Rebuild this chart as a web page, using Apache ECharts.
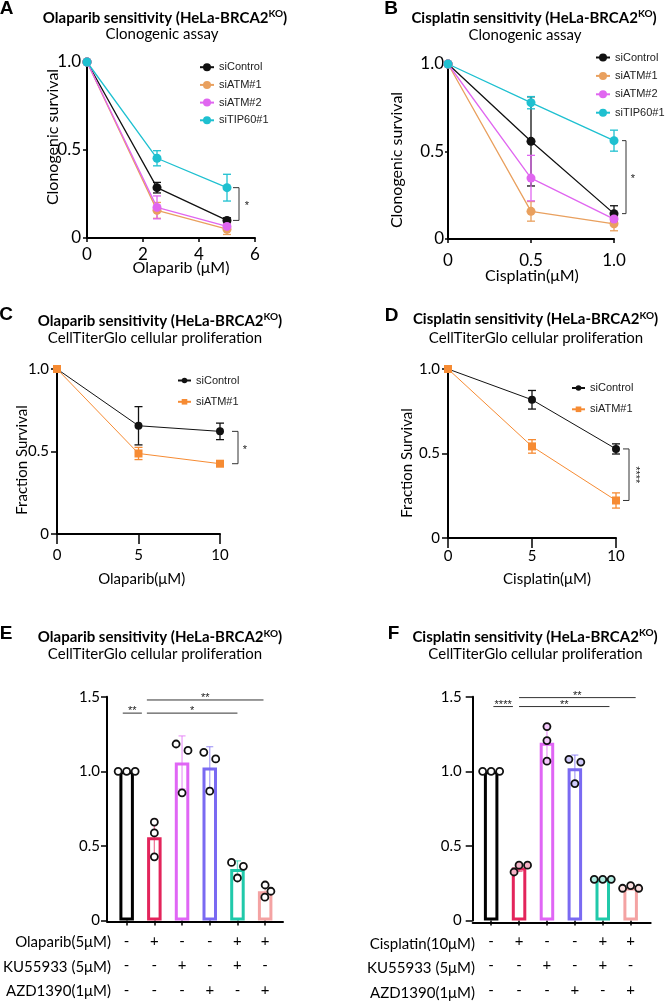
<!DOCTYPE html>
<html><head><meta charset="utf-8">
<script src="https://cdn.jsdelivr.net/npm/echarts@6/dist/echarts.min.js"></script>
<style>html,body{margin:0;padding:0;background:#fff}#c{width:665px;height:1002px}</style>
</head><body><div id="c"></div>
<script>
// ================= DATA =================
// Panel A: Olaparib, clonogenic survival
const dosesA = [0, 2.5, 5];
const A_siControl = [1.0, 0.286, 0.100];
const A_siControl_sd = [0, 0.030, 0.015];
const A_siATM1 = [1.0, 0.157, 0.050];
const A_siATM1_sd = [0, 0.045, 0.030];
const A_siATM2 = [1.0, 0.174, 0.066];
const A_siATM2_sd = [0, 0.065, 0.020];
const A_siTIP60 = [1.0, 0.453, 0.286];
const A_siTIP60_sd = [0, 0.043, 0.076];
// Panel B: Cisplatin, clonogenic survival
const dosesB = [0, 0.5, 1.0];
const B_siControl = [1.0, 0.558, 0.145];
const B_siControl_sd = [0, 0.255, 0.045];
const B_siATM1 = [1.0, 0.158, 0.087];
const B_siATM1_sd = [0, 0.056, 0.040];
const B_siATM2 = [1.0, 0.348, 0.114];
const B_siATM2_sd = [0, 0.130, 0.030];
const B_siTIP60 = [1.0, 0.779, 0.562];
const B_siTIP60_sd = [0, 0.035, 0.060];
// Panels C / D: CellTiterGlo
const dosesCD = [0, 5, 10];
const C_siControl = [1.0, 0.656, 0.622];
const C_siControl_sd = [0, 0.116, 0.050];
const C_siATM1 = [1.0, 0.488, 0.426];
const C_siATM1_sd = [0, 0.037, 0.008];
const D_siControl = [1.0, 0.818, 0.527];
const D_siControl_sd = [0, 0.055, 0.030];
const D_siATM1 = [1.0, 0.542, 0.222];
const D_siATM1_sd = [0, 0.040, 0.045];
const sigA = '*', sigB = '*', sigC = '*', sigD = '****';
// Panel E replicates (fraction survival)
const E_ctrl = [1.0, 1.0, 1.0];
const E_drug = [0.660, 0.587, 0.427];
const E_ku = [1.183, 1.140, 0.856];
const E_azd = [1.127, 1.083, 0.867];
const E_drugKu = [0.389, 0.363, 0.285];
const E_drugAzd = [0.238, 0.196, 0.156];
// Panel F replicates
const F_ctrl = [1.0, 1.0, 1.0];
const F_drug = [0.371, 0.325, 0.371];
const F_ku = [1.300, 1.206, 1.068];
const F_azd = [1.080, 1.062, 0.918];
const F_drugKu = [0.276, 0.276, 0.276];
const F_drugAzd = [0.216, 0.234, 0.216];
// treatment table
const rowLabelsE = ['Olaparib(5μM)', 'KU55933 (5μM)', 'AZD1390(1μM)'];
const rowLabelsF = ['Cisplatin(10μM)', 'KU55933 (5μM)', 'AZD1390(1μM)'];
const drugRow = ['-', '+', '-', '-', '+', '+'];
const kuRow   = ['-', '-', '+', '-', '+', '-'];
const azdRow  = ['-', '-', '-', '+', '-', '+'];
const conditions = ['ctrl', 'drug', 'ku', 'azd', 'drug+ku', 'drug+azd'];
// significance comparisons [from, to, label]
const sigE = [[0, 1, '**'], [1, 4, '*'], [1, 5, '**']];
const sigF = [[0, 1, '****'], [1, 4, '**'], [1, 5, '**']];

// ================= STYLE / LAYOUT =================
const FONT = 'Lato';
const LEG_FONT = 'Liberation Sans';
const cBlack = '#111111', cOrangeAB = '#E9A05E', cMag = '#E066F0', cCyan = '#1EC0D0', cOrangeCD = '#F68B33';
const barColors = ['#000000', '#E3245B', '#E066F5', '#7A6AF2', '#20C9AA', '#F4A3A3'];
const layoutSigE = [{y: 1.39, d1: -0.14, d2: -0.45}, {y: 1.39, d1: -0.27, d2: 0}, {y: 1.478, d1: -0.27, d2: -0.06}];
const layoutSigF = [{y: 1.434, d1: 0.08, d2: -0.22}, {y: 1.434, d1: 0, d2: 0.24}, {y: 1.494, d1: 0, d2: 0.18}];

const fmt1 = v => v === 0 ? '0' : v.toFixed(1);
const fmtInt = v => String(v);

const grids = [
  {left: 87, top: 62, width: 168, height: 176},      // 0 A
  {left: 448, top: 64, width: 166, height: 175},     // 1 B
  {left: 57, top: 369, width: 163, height: 165},     // 2 C
  {left: 448, top: 369, width: 168, height: 169},    // 3 D
  {left: 112.8, top: 696.7, width: 166.2, height: 225}, // 4 E bars
  {left: 107, top: 696.7, width: 176, height: 225},  // 5 E axis line
  {left: 477.2, top: 696.7, width: 167.4, height: 225.8}, // 6 F bars
  {left: 472.7, top: 696.7, width: 178, height: 225.8}    // 7 F axis line
];

function vAxis(gi, min, max, interval, o) {
  return {
    type: 'value', gridIndex: gi, min, max, interval, offset: o.offset || 0,
    axisLine: {show: true, onZero: false, lineStyle: {color: '#000', width: 2}},
    axisTick: {show: o.tick !== false, inside: false, length: o.tickLen || 5, lineStyle: {color: '#000', width: 1.5}},
    axisLabel: {show: o.label !== false, margin: o.margin || 6, color: '#000', fontFamily: FONT, fontSize: o.fs || 15, formatter: o.fmt || fmt1},
    splitLine: {show: false}
  };
}
function catAxis(gi) {
  return {type: 'category', gridIndex: gi, data: conditions, boundaryGap: true,
    axisLine: {show: false}, axisTick: {show: true, alignWithLabel: true, length: 5, lineStyle: {color: '#000', width: 1.5}},
    axisLabel: {interval: 0, margin: 8, color: '#000', fontFamily: FONT, fontSize: 15, lineHeight: 24.5,
      formatter: (v, i) => drugRow[i] + '\n' + kuRow[i] + '\n' + azdRow[i]}};
}

const xAxes = [
  vAxis(0, 0, 6, 2, {fmt: fmtInt, margin: 8, fs: 17, tickLen: 4}),
  vAxis(1, 0, 1, 0.5, {fmt: fmt1, margin: 13, fs: 17, tickLen: 4}),
  vAxis(2, 0, 10, 5, {fmt: fmtInt, margin: 14, tickLen: 10}),
  vAxis(3, 0, 10, 5, {fmt: fmtInt, margin: 11, tickLen: 10}),
  catAxis(4),
  vAxis(5, 0, 1, 1, {tick: false, label: false}),
  catAxis(6),
  vAxis(7, 0, 1, 1, {tick: false, label: false})
];
const yAxes = [
  vAxis(0, 0, 1, 0.5, {fs: 17, margin: 6, tickLen: 4}),
  vAxis(1, 0, 1, 0.5, {fs: 17, margin: 4, tickLen: 3}),
  vAxis(2, 0, 1, 0.5, {margin: 8, tickLen: 6}),
  vAxis(3, 0, 1, 0.5, {margin: 8, tickLen: 6}),
  vAxis(4, 0, 1.5, 0.5, {offset: 5.8, margin: 7, tickLen: 6}),
  {type: 'value', gridIndex: 5, min: 0, max: 1, show: false},
  vAxis(6, 0, 1.5, 0.5, {offset: 4.5, margin: 11, tickLen: 7}),
  {type: 'value', gridIndex: 7, min: 0, max: 1, show: false}
];

const series = [];
function addLine(name, gi, xs, ys, sd, color, symbol, size, lw, cap) {
  series.push({type: 'custom', xAxisIndex: gi, yAxisIndex: gi, z: 3, silent: true, clip: false,
    data: xs.map((x, i) => [x, ys[i], sd[i]]),
    renderItem: (p, api) => {
      const e = api.value(2);
      if (!e) return {type: 'group', children: []};
      const x = api.value(0), y = api.value(1);
      const t = api.coord([x, y + e]), b = api.coord([x, Math.max(0, y - e)]);
      const st = {stroke: color, lineWidth: 1.3};
      return {type: 'group', children: [
        {type: 'line', shape: {x1: t[0], y1: t[1], x2: b[0], y2: b[1]}, style: st},
        {type: 'line', shape: {x1: t[0] - cap, y1: t[1], x2: t[0] + cap, y2: t[1]}, style: st},
        {type: 'line', shape: {x1: b[0] - cap, y1: b[1], x2: b[0] + cap, y2: b[1]}, style: st}
      ]};
    }});
  series.push({type: 'line', name, xAxisIndex: gi, yAxisIndex: gi, z: 4,
    data: xs.map((x, i) => [x, ys[i]]), symbol, symbolSize: size, showSymbol: true,
    lineStyle: {color, width: lw}, itemStyle: {color}, emphasis: {disabled: true}});
}
function addBracket(gi, x, yTop, yBot, label, a, b, tOff, rotate) {
  series.push({type: 'custom', xAxisIndex: gi, yAxisIndex: gi, z: 5, silent: true, clip: false,
    data: [[x, yTop, yBot]],
    renderItem: (p, api) => {
      const t = api.coord([api.value(0), api.value(1)]), bt = api.coord([api.value(0), api.value(2)]);
      const x0 = t[0];
      return {type: 'group', children: [
        {type: 'polyline', shape: {points: [[x0 + a, t[1]], [x0 + b, t[1]], [x0 + b, bt[1]], [x0 + a, bt[1]]]},
         style: {stroke: '#333', lineWidth: 1, fill: null}},
        {type: 'text', x: x0 + b + tOff, y: (t[1] + bt[1]) / 2 + (rotate ? 0 : 2), rotation: rotate ? -Math.PI / 2 : 0,
         style: {text: label, fill: '#222', font: '11px "Liberation Sans"', align: 'center', verticalAlign: 'middle'}}
      ]};
    }});
}

// A
addLine('siControl|A', 0, dosesA, A_siControl, A_siControl_sd, cBlack, 'circle', 9, 1.3, 4);
addLine('siATM#1|A', 0, dosesA, A_siATM1, A_siATM1_sd, cOrangeAB, 'circle', 9, 1.3, 4);
addLine('siATM#2|A', 0, dosesA, A_siATM2, A_siATM2_sd, cMag, 'circle', 9, 1.3, 4);
addLine('siTIP60#1|A', 0, dosesA, A_siTIP60, A_siTIP60_sd, cCyan, 'circle', 9, 1.3, 4);
addBracket(0, dosesA[2], A_siTIP60[2], A_siControl[2], sigA, 6, 12, 8, false);
// B
addLine('siControl|B', 1, dosesB, B_siControl, B_siControl_sd, cBlack, 'circle', 9, 1.3, 4);
addLine('siATM#1|B', 1, dosesB, B_siATM1, B_siATM1_sd, cOrangeAB, 'circle', 9, 1.3, 4);
addLine('siATM#2|B', 1, dosesB, B_siATM2, B_siATM2_sd, cMag, 'circle', 9, 1.3, 4);
addLine('siTIP60#1|B', 1, dosesB, B_siTIP60, B_siTIP60_sd, cCyan, 'circle', 9, 1.3, 4);
addBracket(1, dosesB[2], B_siTIP60[2], B_siControl[2], sigB, 8, 12, 7, false);
// C
addLine('siControl|C', 2, dosesCD, C_siControl, C_siControl_sd, cBlack, 'circle', 8, 1, 4);
addLine('siATM#1|C', 2, dosesCD, C_siATM1, C_siATM1_sd, cOrangeCD, 'rect', 8, 1, 4);
addBracket(2, dosesCD[2], C_siControl[2], C_siATM1[2], sigC, 12, 18, 7, false);
// D
addLine('siControl|D', 3, dosesCD, D_siControl, D_siControl_sd, cBlack, 'circle', 8, 1, 4);
addLine('siATM#1|D', 3, dosesCD, D_siATM1, D_siATM1_sd, cOrangeCD, 'rect', 8, 1, 4);
addBracket(3, dosesCD[2], D_siControl[2], D_siATM1[2], sigD, 7, 13, 6, true);

// --- E / F bars with replicate dots ---
function swarm(ys, D) {
  const n = ys.length, order = ys.map((y, i) => i).sort((a, b) => ys[a] - ys[b]);
  const off = new Array(n).fill(0);
  const clusters = [];
  let cur = [order[0]];
  for (let k = 1; k < n; k++) {
    if (ys[order[k]] - ys[order[k - 1]] < D) cur.push(order[k]); else { clusters.push(cur); cur = [order[k]]; }
  }
  clusters.push(cur);
  clusters.forEach(cl => {
    if (cl.length === 2) { off[cl[0]] = -0.7 * D; off[cl[1]] = 0.7 * D; return; }
    const placed = [];
    cl.forEach(i => {
      const cands = [0];
      placed.forEach(j => {
        const dy = Math.abs(ys[i] - ys[j]);
        if (dy < D) { const w = Math.sqrt(D * D - dy * dy); cands.push(off[j] + w, off[j] - w); }
      });
      cands.sort((a, b) => Math.abs(a) - Math.abs(b) || b - a);
      const ok = cands.find(x => placed.every(j => Math.hypot(x - off[j], ys[i] - ys[j]) >= D - 1e-6));
      off[i] = ok; placed.push(i);
    });
  });
  return off;
}
function mean(a) { return a.reduce((s, v) => s + v, 0) / a.length; }
function sd(a) { const m = mean(a); return Math.sqrt(a.reduce((s, v) => s + (v - m) * (v - m), 0) / (a.length - 1)); }
function tint(hex, f) {
  const n = parseInt(hex.slice(1), 16), r = n >> 16, g = (n >> 8) & 255, b = n & 255;
  const m = c => Math.round(255 - (255 - c) * f);
  return 'rgb(' + m(r) + ',' + m(g) + ',' + m(b) + ')';
}
function addBarPanel(gi, reps, dotTint, sig, layout) {
  series.push({type: 'bar', xAxisIndex: gi, yAxisIndex: gi, barWidth: 14.5, z: 2, silent: true,
    data: reps.map((r, i) => ({value: mean(r), itemStyle: {color: '#fff', borderColor: barColors[i], borderWidth: 3}}))});
  series.push({type: 'custom', xAxisIndex: gi, yAxisIndex: gi, z: 4, silent: true, clip: false,
    dimensions: ['x', 'a', 'b', 'c'], encode: {x: 0, y: [1, 2, 3]},
    data: reps.map((r, i) => [i].concat(r)),
    renderItem: (p, api) => {
      const i = api.value(0);
      const vals = [api.value(1), api.value(2), api.value(3)];
      const m = mean(vals), s = sd(vals), c = barColors[i];
      const ch = [];
      if (s > 1e-4) {
        const t = api.coord([i, m + s]), b = api.coord([i, m - s]);
        const st = {stroke: c, opacity: 0.6, lineWidth: 1.3};
        ch.push({type: 'line', shape: {x1: t[0], y1: t[1], x2: b[0], y2: b[1]}, style: st});
        ch.push({type: 'line', shape: {x1: t[0] - 3.5, y1: t[1], x2: t[0] + 3.5, y2: t[1]}, style: st});
        ch.push({type: 'line', shape: {x1: b[0] - 3.5, y1: b[1], x2: b[0] + 3.5, y2: b[1]}, style: st});
      }
      const pts = vals.map(v => api.coord([i, v]));
      const off = swarm(pts.map(q => q[1]), 8.5);
      const fill = (dotTint && i > 0) ? tint(c, dotTint) : '#fff';
      pts.forEach((q, k) => ch.push({type: 'circle', shape: {cx: q[0] + off[k], cy: q[1], r: 3.5},
        style: {fill, stroke: '#111', lineWidth: 1.8}}));
      return {type: 'group', children: ch};
    }});
  series.push({type: 'custom', xAxisIndex: gi, yAxisIndex: gi, z: 5, silent: true, clip: false,
    data: sig.map((s, k) => [s[0], s[1], k]),
    renderItem: (p, api) => {
      const k = api.value(2), L = layout[k];
      const band = api.size([1, 0])[0];
      const p1 = api.coord([api.value(0), L.y]), p2 = api.coord([api.value(1), L.y]);
      const x1 = p1[0] + L.d1 * band, x2 = p2[0] + L.d2 * band;
      return {type: 'group', children: [
        {type: 'line', shape: {x1, y1: p1[1], x2, y2: p1[1]}, style: {stroke: '#333', lineWidth: 1}},
        {type: 'text', x: (x1 + x2) / 2, y: p1[1] - 2, style: {text: sig[k][2], fill: '#222', font: '11px "Liberation Sans"', align: 'center', verticalAlign: 'middle'}}
      ]};
    }});
}
addBarPanel(4, [E_ctrl, E_drug, E_ku, E_azd, E_drugKu, E_drugAzd], 0, sigE, layoutSigE);
addBarPanel(6, [F_ctrl, F_drug, F_ku, F_azd, F_drugKu, F_drugAzd], 0.35, sigF, layoutSigF);

// --- legends ---
function legend(names, left, top, ih, iw, gap) {
  return {data: names, orient: 'vertical', left, top, itemWidth: iw, itemHeight: ih, itemGap: gap, selectedMode: false,
    padding: 0, formatter: n => n.split('|')[0],
    textStyle: {fontFamily: LEG_FONT, fontSize: 11, color: '#222', lineHeight: ih}};
}
const legends = [
  legend(['siControl|A', 'siATM#1|A', 'siATM#2|A', 'siTIP60#1|A'], 199, 61.7, 10, 14, 6.7),
  legend(['siControl|B', 'siATM#1|B', 'siATM#2|B', 'siTIP60#1|B'], 595, 52, 10, 14, 7.4),
  legend(['siControl|C', 'siATM#1|C'], 177, 375, 7, 13, 10.3),
  legend(['siControl|D', 'siATM#1|D'], 571, 382.5, 7, 13, 10.3)
];

// --- texts ---
const g = [];
function T(x, y, text, fs, bold, rot, align, fam) {
  g.push({type: 'text', x, y, rotation: rot || 0, silent: true,
    style: {text, fill: '#000', fontFamily: fam || FONT, fontSize: fs, fontWeight: bold ? 'bold' : 'normal',
      align: align || 'center', verticalAlign: 'middle'}});
}
function title(x, y, main) {
  g.push({type: 'text', x, y, silent: true, style: {
    text: '{m|' + main + ' (HeLa-BRCA2}{s|KO}{m|)}', align: 'center', verticalAlign: 'middle',
    rich: {m: {fontFamily: FONT, fontWeight: 'bold', fontSize: 15, lineHeight: 18, fill: '#000', verticalAlign: 'middle'},
           s: {fontFamily: FONT, fontWeight: 'bold', fontSize: 10, lineHeight: 11, fill: '#000', verticalAlign: 'top'}}}});
}
const LF = 'Liberation Sans';
T(6.5, 9, 'A', 19, true, 0, 'center', LF); title(165, 18, 'Olaparib sensitivity'); T(162, 34.5, 'Clonogenic assay', 15);
T(391, 9, 'B', 19, true, 0, 'center', LF); title(534, 18, 'Cisplatin sensitivity'); T(525, 34.7, 'Clonogenic assay', 15);
T(6, 315, 'C', 19, true, 0, 'center', LF); title(160, 320.7, 'Olaparib sensitivity'); T(155, 338, 'CellTiterGlo cellular proliferation', 15);
T(391.5, 316, 'D', 19, true, 0, 'center', LF); title(535.5, 319.5, 'Cisplatin sensitivity'); T(536, 338.3, 'CellTiterGlo cellular proliferation', 15);
T(6, 633.5, 'E', 19, true, 0, 'center', LF); title(160, 637.3, 'Olaparib sensitivity'); T(155, 654.3, 'CellTiterGlo cellular proliferation', 15);
T(393.5, 633.5, 'F', 19, true, 0, 'center', LF); title(535, 637, 'Cisplatin sensitivity'); T(535.5, 654, 'CellTiterGlo cellular proliferation', 15);
// axis names
T(181, 268, 'Olaparib (μM)', 16); T(532, 276, 'Cisplatin(μM)', 16);
T(141.7, 579, 'Olaparib(μM)', 15); T(547, 579, 'Cisplatin(μM)', 15);
T(53, 137, 'Clonogenic survival', 16, false, Math.PI / 2); T(397, 160, 'Clonogenic survival', 16, false, Math.PI / 2);
T(22, 460, 'Fraction Survival', 15, false, Math.PI / 2); T(407, 463, 'Fraction Survival', 15, false, Math.PI / 2);
// treatment row labels
rowLabelsE.forEach((t, k) => T(111, 942.5 + k * 24.5, t, 15, false, 0, 'right'));
rowLabelsF.forEach((t, k) => T(475, 944 + k * 24.5, t, 15, false, 0, 'right'));

const chart = echarts.init(document.getElementById('c'), null, {renderer: 'canvas', width: 665, height: 1002});
chart.setOption({
  animation: false, backgroundColor: '#fff',
  grid: grids, xAxis: xAxes, yAxis: yAxes, legend: legends, series, graphic: g
});
</script>
</body></html>
